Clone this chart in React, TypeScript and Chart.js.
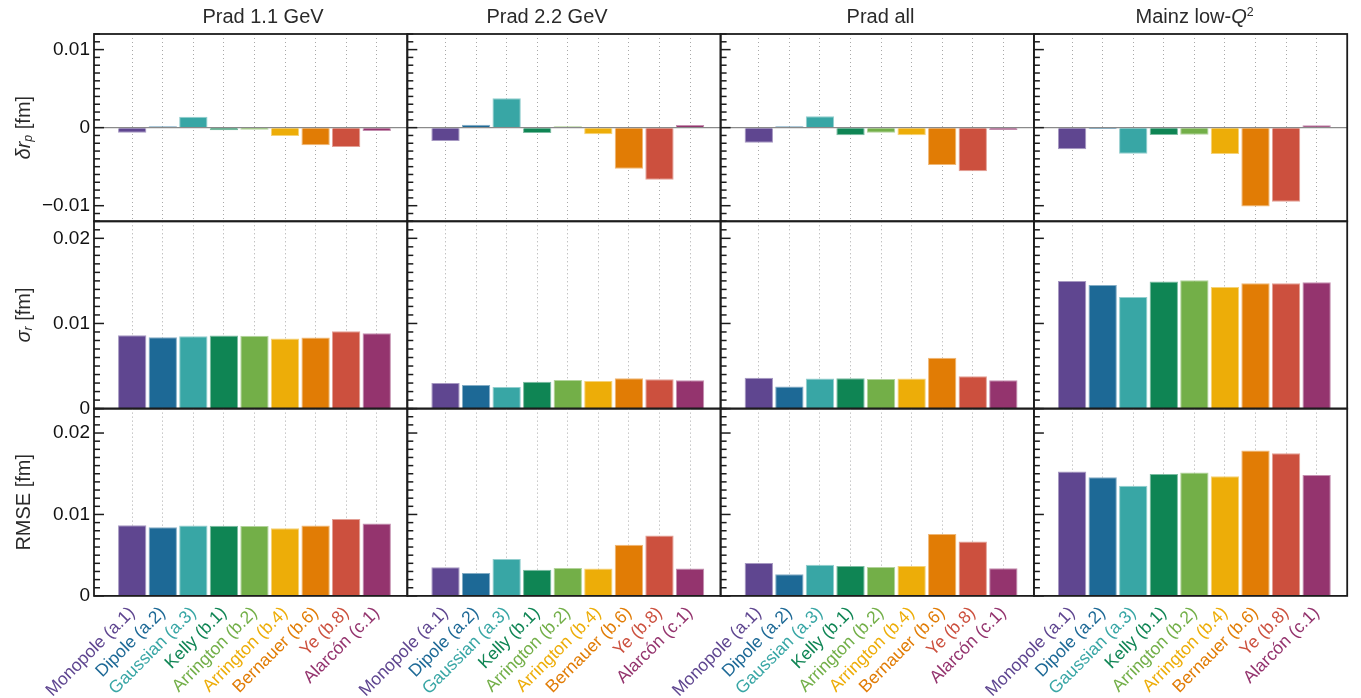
import React, { useEffect, useRef } from 'react';
import { Chart, registerables } from 'chart.js';

Chart.register(...registerables);

const FONT = '"Liberation Sans", Arial, Helvetica, sans-serif';

// ---------------- data ----------------
const categories = [
  'Monopole (a.1)',
  'Dipole (a.2)',
  'Gaussian (a.3)',
  'Kelly (b.1)',
  'Arrington (b.2)',
  'Arrington (b.4)',
  'Bernauer (b.6)',
  'Ye (b.8)',
  'Alarcón (c.1)',
];
const categoryColors = ['#5F4690', '#1D6996', '#38A6A5', '#0F8554', '#73AF48', '#EDAD08', '#E17C05', '#CC503E', '#94346E'];

// row 1: delta r_p [fm]
const deltaPrad11 = [-0.00064, 0.00017, 0.0014, -0.00034, -0.00026, -0.00107, -0.00226, -0.00248, -0.00043];
const deltaPrad22 = [-0.0017, 0.00038, 0.00376, -0.00068, 0.00017, -0.00085, -0.00526, -0.00667, 0.00034];
const deltaPradAll = [-0.00192, 0.00017, 0.00145, -0.00098, -0.00064, -0.00098, -0.00479, -0.0056, -0.0003];
const deltaMainz = [-0.00278, -0.00017, -0.00333, -0.00094, -0.0009, -0.00338, -0.01009, -0.00949, 0.0003];

// row 2: sigma_r [fm]
const sigmaPrad11 = [0.00863, 0.00839, 0.00851, 0.00859, 0.00855, 0.00824, 0.00835, 0.0091, 0.00886];
const sigmaPrad22 = [0.00302, 0.00278, 0.00255, 0.00314, 0.00337, 0.00325, 0.00357, 0.00345, 0.00333];
const sigmaPradAll = [0.00361, 0.00259, 0.00353, 0.00357, 0.00349, 0.00353, 0.00596, 0.0038, 0.00333];
const sigmaMainz = [0.015, 0.01453, 0.01311, 0.01492, 0.01508, 0.01429, 0.01472, 0.01472, 0.01484];

// row 3: RMSE [fm]
const rmsePrad11 = [0.00869, 0.00844, 0.00865, 0.00861, 0.00857, 0.00832, 0.00865, 0.00943, 0.00889];
const rmsePrad22 = [0.00351, 0.00282, 0.00453, 0.00322, 0.00343, 0.00335, 0.00629, 0.00743, 0.00335];
const rmsePradAll = [0.00404, 0.00265, 0.00384, 0.00367, 0.00355, 0.00367, 0.00759, 0.00669, 0.00339];
const rmseMainz = [0.01527, 0.01457, 0.01354, 0.01498, 0.01514, 0.01469, 0.01786, 0.01753, 0.01486];

const panelValues = [
  [deltaPrad11, deltaPrad22, deltaPradAll, deltaMainz],
  [sigmaPrad11, sigmaPrad22, sigmaPradAll, sigmaMainz],
  [rmsePrad11, rmsePrad22, rmsePradAll, rmseMainz],
];

const rowMin = [-0.012, 0, 0];
const rowMax = [0.012, 0.022, 0.023];
const yTickStep = 0.001;
const yMajorStep = 0.01;
const xMin = -1.25;
const xMax = 9.0;

type Seg = { t: string; i?: boolean; sup?: boolean; sub?: boolean };

const columnTitles: Seg[][] = [
  [{ t: 'Prad 1.1 GeV' }],
  [{ t: 'Prad 2.2 GeV' }],
  [{ t: 'Prad all' }],
  [{ t: 'Mainz low-' }, { t: 'Q', i: true }, { t: '2', sup: true }],
];
const rowTitles: Seg[][] = [
  [{ t: 'δ', i: true }, { t: 'r', i: true }, { t: 'p', i: true, sub: true }, { t: ' [fm]' }],
  [{ t: 'σ', i: true }, { t: 'r', i: true, sub: true }, { t: ' [fm]' }],
  [{ t: 'RMSE [fm]' }],
];

// ---------------- layout ----------------
const PAGE_W = 1361;
const PAGE_H = 698;
const plotLefts = [94, 407.3, 720.6, 1033.9];
const plotWidth = 313.3;
const plotTops = [34, 221.3, 408.6];
const plotHeight = 187.3;
const titleCenters = [263, 547, 880.5, 1194.6];
const titleBaseline = 23;
const rowTitleX = 24;

function isMajor(v: number) {
  const q = v / yMajorStep;
  return Math.abs(q - Math.round(q)) < 1e-6;
}
function fmtTick(v: number) {
  if (Math.abs(v) < 1e-9) return '0';
  const s = Math.abs(v).toFixed(2);
  return v < 0 ? '\u2212' + s : s;
}
function lighten(hex: string, t: number) {
  const n = parseInt(hex.slice(1), 16);
  const r = (n >> 16) & 255, g = (n >> 8) & 255, b = n & 255;
  const m = (c: number) => Math.round(c + (255 - c) * t);
  return `rgb(${m(r)},${m(g)},${m(b)})`;
}

function drawRich(ctx: CanvasRenderingContext2D, segs: Seg[], x: number, y: number, size: number, color: string, rotate: boolean, baseline: CanvasTextBaseline) {
  ctx.save();
  ctx.translate(x, y);
  if (rotate) ctx.rotate(-Math.PI / 2);
  ctx.fillStyle = color;
  ctx.textAlign = 'left';
  ctx.textBaseline = baseline;
  const parts = segs.map((s) => {
    const fs = s.sup || s.sub ? size * 0.62 : size;
    const font = `${s.i ? 'italic ' : ''}${fs}px ${FONT}`;
    ctx.font = font;
    const w = ctx.measureText(s.t).width;
    const dy = s.sup ? -size * 0.36 : s.sub ? size * 0.22 : 0;
    return { t: s.t, font, w, dy };
  });
  const total = parts.reduce((a, p) => a + p.w, 0);
  let cx = -total / 2;
  for (const p of parts) {
    ctx.font = p.font;
    ctx.fillText(p.t, cx, p.dy);
    cx += p.w;
  }
  ctx.restore();
}

const panelPlugin = {
  id: 'panelFrame',
  afterDraw(chart: any, _args: any, opts: any) {
    const { ctx, chartArea: a } = chart;
    const ys = chart.scales.y;
    ctx.save();
    ctx.strokeStyle = '#1c1c1c';
    ctx.lineWidth = 1.5;
    for (const t of ys.ticks) {
      const py = ys.getPixelForValue(t.value);
      const len = isMajor(t.value) ? 10 : 6;
      ctx.beginPath();
      ctx.moveTo(a.left, py);
      ctx.lineTo(a.left + len, py);
      ctx.stroke();
    }
    ctx.lineWidth = 1.8;
    ctx.strokeRect(a.left, a.top, a.right - a.left, a.bottom - a.top);
    ctx.restore();
    if (opts.colTitle) drawRich(ctx, opts.colTitle, opts.colTitleX, titleBaseline, 20, '#2a2a2a', false, 'alphabetic');
    if (opts.rowTitle) drawRich(ctx, opts.rowTitle, rowTitleX, (a.top + a.bottom) / 2, 20, '#2a2a2a', true, 'middle');
  },
};

function makeConfig(r: number, c: number): any {
  const values = panelValues[r][c];
  const plotRight = plotLefts[c] + plotWidth;
  const plotBottom = plotTops[r] + plotHeight;
  return {
    type: 'bar',
    data: {
      datasets: [
        {
          data: values.map((v, i) => ({ x: i, y: v })),
          backgroundColor: categoryColors,
          borderColor: categoryColors.map((h) => lighten(h, 0.45)),
          borderWidth: 1,
          categoryPercentage: 1,
          barPercentage: 0.927,
        },
      ],
    },
    options: {
      responsive: false,
      animation: false,
      events: [],
      layout: {
        padding: {
          left: c === 0 ? 0 : plotLefts[c],
          right: PAGE_W - plotRight,
          top: plotTops[r],
          bottom: r === 2 ? 0 : PAGE_H - plotBottom,
        },
      },
      plugins: {
        legend: { display: false },
        tooltip: { enabled: false },
        title: { display: false },
        panelFrame: {
          colTitle: r === 0 ? columnTitles[c] : null,
          colTitleX: titleCenters[c],
          rowTitle: c === 0 ? rowTitles[r] : null,
        },
      },
      scales: {
        x: {
          type: 'linear',
          position: 'bottom',
          min: xMin,
          max: xMax,
          offset: false,
          afterBuildTicks: (s: any) => {
            s.ticks = categories.map((_, i) => ({ value: i }));
          },
          afterFit: (s: any) => {
            s.height = r === 2 ? PAGE_H - plotBottom : 0;
          },
          grid: { display: true, offset: false, drawOnChartArea: true, drawTicks: false, color: '#a8a8a8', lineWidth: 1 },
          border: { display: false, dash: [1, 3] },
          ticks: {
            display: r === 2,
            autoSkip: false,
            minRotation: 45,
            maxRotation: 45,
            padding: 7,
            font: { family: FONT, size: 17.5 },
            color: (ctx: any) => categoryColors[ctx.index % categoryColors.length],
            callback: (v: number) => categories[Math.round(v)] ?? '',
          },
        },
        y: {
          type: 'linear',
          position: 'left',
          min: rowMin[r],
          max: rowMax[r],
          afterFit: (s: any) => {
            s.width = c === 0 ? plotLefts[0] : 0;
          },
          grid: {
            display: r === 0,
            drawOnChartArea: true,
            drawTicks: false,
            lineWidth: 1.3,
            color: (ctx: any) => (ctx.tick && Math.abs(ctx.tick.value) < 1e-9 ? '#8a8a8a' : 'rgba(0,0,0,0)'),
          },
          border: { display: false },
          ticks: {
            display: c === 0,
            stepSize: yTickStep,
            autoSkip: false,
            padding: 4,
            font: { family: FONT, size: 19 },
            color: '#111',
            callback: (v: number) => (isMajor(v) ? fmtTick(v) : ''),
          },
        },
      },
    },
    plugins: [panelPlugin],
  };
}

function Panel({ r, c }: { r: number; c: number }) {
  const ref = useRef<HTMLCanvasElement>(null);
  useEffect(() => {
    if (!ref.current) return;
    const chart = new Chart(ref.current, makeConfig(r, c));
    return () => chart.destroy();
  }, [r, c]);
  return (
    <canvas
      ref={ref}
      width={PAGE_W}
      height={PAGE_H}
      style={{ position: 'absolute', left: 0, top: 0, pointerEvents: 'none' }}
    />
  );
}

export default function App() {
  const panels = [];
  for (let r = 0; r < 3; r++) {
    for (let c = 0; c < 4; c++) {
      panels.push(<Panel key={`${r}-${c}`} r={r} c={c} />);
    }
  }
  return (
    <div style={{ position: 'absolute', left: 0, top: 0, width: PAGE_W, height: PAGE_H, background: '#fff', overflow: 'hidden' }}>
      {panels}
    </div>
  );
}
